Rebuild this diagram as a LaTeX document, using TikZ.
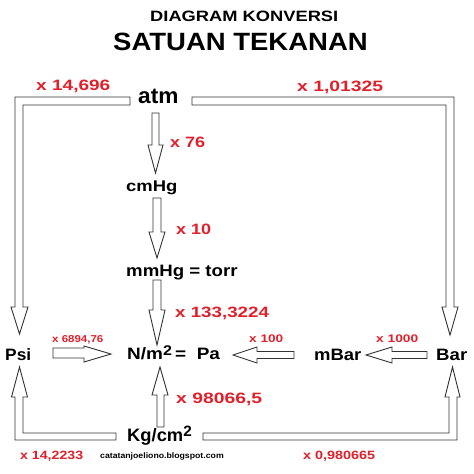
\documentclass[tikz,border=0pt]{standalone}
\usepackage{fontspec}
\setmainfont{Liberation Sans}
\usepackage{graphicx}
\definecolor{lblred}{HTML}{E0202A}
\definecolor{arrline}{HTML}{333333}
\newcommand\lbl[7]{\node[anchor=base west,inner sep=0pt,text=#6,font=\fontsize{#4}{#4}\selectfont\bfseries] (#1) at (#2,#3) {\scalebox{#5}[1]{#7}};}
\begin{document}
\begin{tikzpicture}[x=1pt,y=-1pt,
  hollow/.style={draw=arrline,line width=0.9pt,fill=white,line join=miter}]
\useasboundingbox (0,0) rectangle (474,474);
\fill[white] (0,0) rectangle (474,474);

% titles
\lbl{t1}{150}{21}{15}{1.22}{black}{DIAGRAM KONVERSI}
\lbl{t2}{113}{50}{25}{1.10}{black}{SATUAN TEKANAN}

% hollow arrows
% atm -> Psi (L)
\draw[hollow] (130,97) -- (15,97) -- (15,307) -- (11,307) -- (19.5,334) -- (28,307) -- (23,307) -- (23,105) -- (130,105) -- cycle;
% atm -> Bar (L)
\draw[hollow] (192,97) -- (454,97) -- (454,307) -- (458,307) -- (450,335) -- (442,307) -- (446,307) -- (446,105) -- (192,105) -- cycle;
% atm -> cmHg
\draw[hollow] (152,113) -- (159,113) -- (159,145) -- (163,145) -- (155.5,173) -- (148,145) -- (152,145) -- cycle;
% cmHg -> mmHg
\draw[hollow] (153,198) -- (161,198) -- (161,232) -- (165,232) -- (157,258) -- (149,232) -- (153,232) -- cycle;
% mmHg -> N/m2
\draw[hollow] (153,280) -- (161,280) -- (161,310) -- (165,310) -- (157,345) -- (149,310) -- (153,310) -- cycle;
% Psi -> N/m2
\draw[hollow] (53,348) -- (84,348) -- (84,346) -- (111,354) -- (84,362) -- (84,358) -- (53,358) -- cycle;
% mBar -> Pa
\draw[hollow] (294,351.5) -- (257,351.5) -- (257,347) -- (233,355) -- (257,363) -- (257,358.5) -- (294,358.5) -- cycle;
% Bar -> mBar
\draw[hollow] (427,351.5) -- (392,351.5) -- (392,347) -- (366,355) -- (392,363) -- (392,358.5) -- (427,358.5) -- cycle;
% Kg/cm2 -> N/m2
\draw[hollow] (157,427) -- (164,427) -- (164,395) -- (168,395) -- (160,367) -- (152,395) -- (157,395) -- cycle;
% Kg/cm2 -> Psi (L)
\draw[hollow] (116,433) -- (23,433) -- (23,397) -- (27.5,397) -- (19.5,367) -- (11.5,397) -- (15,397) -- (15,440) -- (116,440) -- cycle;
% Kg/cm2 -> Bar (L)
\draw[hollow] (203,433) -- (449,433) -- (449,397) -- (445,397) -- (452.5,367) -- (460,397) -- (457,397) -- (457,440) -- (203,440) -- cycle;

% units
\lbl{atm}{138}{103}{22}{1.03}{black}{atm}
\lbl{cmhg}{126}{191}{15.5}{1.19}{black}{cmHg}
\lbl{mmhg}{126}{276}{16.5}{1.13}{black}{mmHg = torr}
\lbl{pa}{127}{359}{16.5}{1.15}{black}{N/m\raisebox{4pt}{\fontsize{14}{14}\selectfont 2}\,= \ Pa}
\lbl{psi}{5}{360}{16.5}{1.05}{black}{Psi}
\lbl{mbar}{314}{360}{16.5}{1.12}{black}{mBar}
\lbl{bar}{436}{360}{16.5}{1.13}{black}{Bar}
\lbl{kg}{127}{441}{18}{1.02}{black}{Kg/cm\raisebox{5pt}{\fontsize{15}{15}\selectfont 2}}

% factors
\lbl{f1}{36}{90}{15}{1.27}{lblred}{x 14,696}
\lbl{f2}{297}{91}{15}{1.29}{lblred}{x 1,01325}
\lbl{f3}{170}{147}{15}{1.2}{lblred}{x 76}
\lbl{f4}{176}{234}{15}{1.2}{lblred}{x 10}
\lbl{f5}{175}{317}{15}{1.25}{lblred}{x 133,3224}
\lbl{f6}{176}{403}{15}{1.29}{lblred}{x 98066,5}
\lbl{f7}{52}{342}{10}{1.15}{lblred}{x 6894,76}
\lbl{f8}{249}{342}{11}{1.24}{lblred}{x 100}
\lbl{f9}{376}{342}{11}{1.25}{lblred}{x 1000}
\lbl{f10}{20}{459}{12}{1.18}{lblred}{x 14,2233}
\lbl{f11}{303}{459}{12}{1.2}{lblred}{x 0,980665}

\lbl{blog}{100}{458}{8}{1.09}{black}{catatanjoeliono.blogspot.com}
\end{tikzpicture}
\end{document}
